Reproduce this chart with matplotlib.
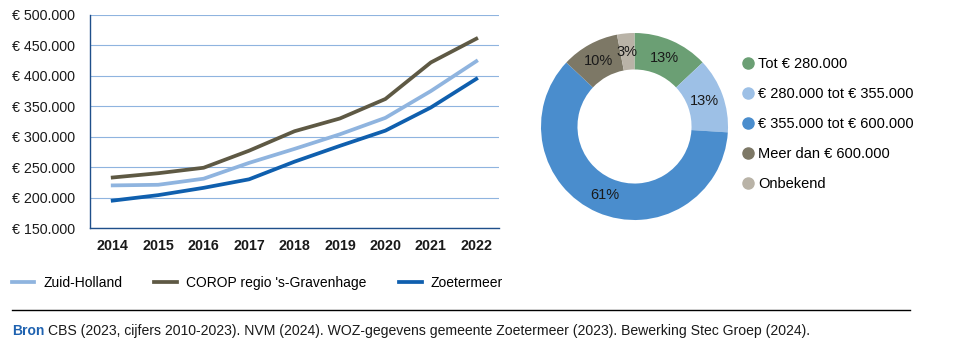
import numpy as np
import matplotlib.pyplot as plt
from matplotlib.lines import Line2D
from matplotlib.ticker import FuncFormatter

plt.rcParams['font.family'] = ['Liberation Sans', 'DejaVu Sans']

# line chart data
years = [2014, 2015, 2016, 2017, 2018, 2019, 2020, 2021, 2022]
zuid_holland = [220000, 221000, 231000, 257000, 280000, 304000, 331000, 375000, 424000]
corop = [233000, 240000, 249000, 277000, 309000, 330000, 362000, 422000, 461000]
zoetermeer = [195000, 204000, 216000, 230000, 259000, 285000, 310000, 348000, 395000]

# donut data
price_classes = ['Tot € 280.000', '€ 280.000 tot € 355.000', '€ 355.000 tot € 600.000',
                 'Meer dan € 600.000', 'Onbekend']
shares = [13, 13, 61, 10, 3]
donut_colors = ['#6b9f74', '#9dc0e6', '#4a8dcd', '#7d7866', '#b9b3a7']

W, H = 958, 351
fig = plt.figure(figsize=(W / 100, H / 100), dpi=100)

def px_axes(x0, y0, x1, y1):
    # pixel box (top-left origin) -> figure axes
    return fig.add_axes([x0 / W, 1 - y1 / H, (x1 - x0) / W, (y1 - y0) / H])

# --- line chart
ax = px_axes(90, 15, 499, 228)
ax.plot(years, zuid_holland, color='#8fb4df', lw=2.7, label='Zuid-Holland')
ax.plot(years, corop, color='#5e5944', lw=2.7, label="COROP regio 's-Gravenhage")
ax.plot(years, zoetermeer, color='#0f5fae', lw=2.7, label='Zoetermeer')
ax.set_xlim(2013.5, 2022.5)
ax.set_ylim(150000, 500000)
ax.set_yticks(range(150000, 500001, 50000))
ax.set_xticks(years)
ax.yaxis.set_major_formatter(FuncFormatter(lambda v, p: '€ {:,.0f}'.format(v).replace(',', '.')))
ax.grid(axis='y', color='#8fb4df', lw=0.8)
ax.set_axisbelow(True)
for s in ['top', 'right']:
    ax.spines[s].set_visible(False)
for s in ['left', 'bottom']:
    ax.spines[s].set_color('#1f4f8a')
    ax.spines[s].set_linewidth(1.0)
ax.tick_params(length=0, labelsize=10.3, colors='#1a1a1a')
ax.tick_params(axis='y', pad=11)
ax.tick_params(axis='x', pad=8)
for lbl in ax.get_xticklabels():
    lbl.set_fontweight('bold')

fig.legend(loc='center left', bbox_to_anchor=(-1 / W, 1 - 283 / H), ncol=3, frameon=False,
           fontsize=10, handlelength=1.65, handletextpad=0.65, columnspacing=2.3)

# --- donut
dax = px_axes(541, 33, 728, 220)
wedges, _ = dax.pie(shares, colors=donut_colors, startangle=90, counterclock=False,
                    radius=1, wedgeprops=dict(width=0.39, linewidth=0))
for w, v in zip(wedges, shares):
    ang = np.deg2rad((w.theta1 + w.theta2) / 2)
    r = 0.8
    dax.text(r * np.cos(ang), r * np.sin(ang), f'{v}%', ha='center', va='center',
             fontsize=10.5, color='#1a1a1a')
dax.set_xlim(-1, 1)
dax.set_ylim(-1, 1)
dax.set_aspect('equal')
dax.axis('off')

handles = [Line2D([], [], marker='o', ls='', color=c, markersize=8) for c in donut_colors]
fig.legend(handles, price_classes, loc='upper left', bbox_to_anchor=(728 / W, 1 - 44 / H),
           frameon=False, fontsize=10.5, handlelength=1.0, handletextpad=0.15, labelspacing=1.09)

# --- footer
fig.add_artist(Line2D([12 / W, 910 / W], [1 - 310 / H] * 2, color='black', lw=1.0))
fig.text(12 / W, 1 - 331 / H, 'Bron', color='#1f62b0', fontsize=10, fontweight='bold', va='center')
fig.text(48 / W, 1 - 331 / H,
         'CBS (2023, cijfers 2010-2023). NVM (2024). WOZ-gegevens gemeente Zoetermeer (2023). '
         'Bewerking Stec Groep (2024).', color='#1a1a1a', fontsize=10.1, va='center')

fig.savefig('out.png', dpi=100)
